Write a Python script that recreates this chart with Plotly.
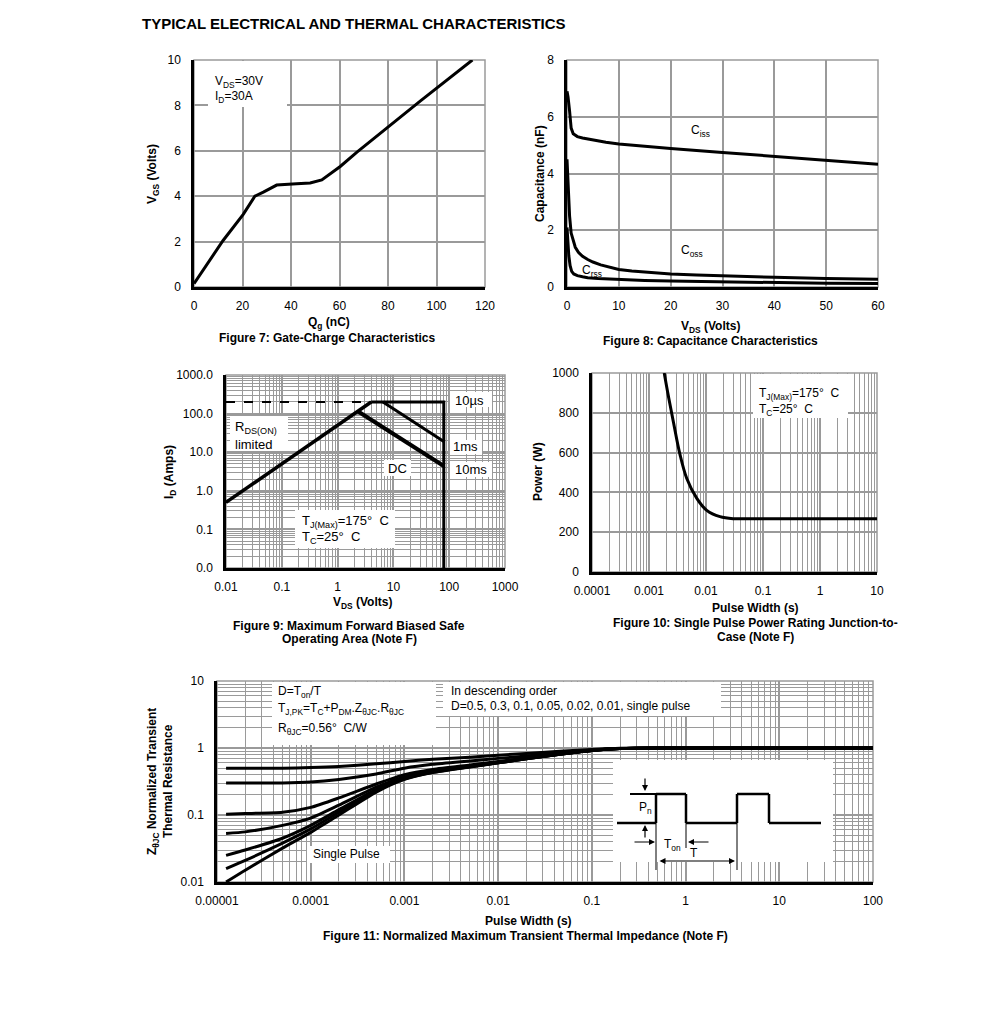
import plotly.graph_objects as go

W, H = 991, 1031
OFF = 8  # page body margin
FONT = "Liberation Sans, Arial, sans-serif"
GRID = "#9a9a9a"

# ---------------- data ----------------
# Fig 7 gate charge
qg = [0, 12, 20.3, 25.1, 28.6, 34.1, 42.3, 47.9, 52.7, 60.3, 67.2, 80.3, 93.4, 114.8]
vgs = [0.15, 2.05, 3.2, 4.0, 4.18, 4.49, 4.55, 4.58, 4.72, 5.31, 5.94, 7.07, 8.2, 10.0]

# Fig 8 capacitance
vds_c = [0, 0.2, 0.5, 0.8, 1.2, 2, 3, 5, 7.5, 10, 15, 20, 30, 40, 50, 60]
ciss = [6.9, 6.7, 6.2, 5.6, 5.4, 5.3, 5.25, 5.18, 5.1, 5.04, 4.95, 4.88, 4.74, 4.61, 4.47, 4.33]
vds_o = [0, 0.2, 0.5, 0.8, 1.2, 1.6, 2.2, 3, 4, 5, 6.5, 8, 10, 12.5, 15, 20, 25, 30, 40, 50, 60]
coss = [4.5, 3.6, 2.5, 1.9, 1.6, 1.4, 1.22, 1.08, 0.97, 0.88, 0.78, 0.70, 0.62, 0.56, 0.52, 0.46, 0.42, 0.39, 0.34, 0.30, 0.27]
vds_r = [0, 0.15, 0.35, 0.6, 0.9, 1.3, 2, 3, 4, 6, 10, 15, 20, 30, 40, 50, 60]
crss = [2.1, 1.6, 1.1, 0.75, 0.55, 0.46, 0.40, 0.36, 0.33, 0.30, 0.26, 0.23, 0.21, 0.18, 0.15, 0.13, 0.12]

# Fig 9 SOA
rds_v = [0.01, 4.0]
rds_i = [0.5, 200]
dash_v = [0.01, 4.0]
dash_i = [200, 200]
lim_v = [4.0, 80, 80]
lim_i = [200, 200, 0.01]
ms1_v = [6.5, 80]
ms1_i = [200, 19]
dc_v = [2.3, 80]
dc_i = [115, 4.4]

# Fig 10 single pulse power
pw_t = [0.00185, 0.0022, 0.0027, 0.0035, 0.0046, 0.0069, 0.0103, 0.0176, 0.03, 0.05, 10]
pw_p = [1000, 880, 749, 590, 470, 370, 310, 278, 268, 268, 268]

# Fig 11 transient thermal impedance
zt = [1.25e-5, 2e-5, 5e-5, 1e-4, 2e-4, 5e-4, 1e-3, 2e-3, 5e-3, 1e-2, 2e-2, 5e-2, 0.1, 0.2, 0.5, 1, 10, 100]
z_d50 = [0.50, 0.50, 0.50, 0.51, 0.53, 0.58, 0.63, 0.68, 0.73, 0.78, 0.83, 0.90, 0.95, 0.99, 1.0, 1.0, 1.0, 1.0]
z_d30 = [0.30, 0.30, 0.30, 0.31, 0.34, 0.41, 0.50, 0.57, 0.64, 0.70, 0.76, 0.86, 0.93, 0.98, 1.0, 1.0, 1.0, 1.0]
z_d10 = [0.103, 0.105, 0.11, 0.13, 0.18, 0.29, 0.40, 0.48, 0.56, 0.63, 0.71, 0.83, 0.92, 0.98, 1.0, 1.0, 1.0, 1.0]
z_d05 = [0.053, 0.056, 0.07, 0.09, 0.14, 0.26, 0.37, 0.46, 0.54, 0.61, 0.70, 0.82, 0.92, 0.98, 1.0, 1.0, 1.0, 1.0]
z_d02 = [0.025, 0.03, 0.045, 0.07, 0.12, 0.24, 0.35, 0.44, 0.53, 0.60, 0.69, 0.82, 0.92, 0.98, 1.0, 1.0, 1.0, 1.0]
z_d01 = [0.0158, 0.021, 0.038, 0.062, 0.11, 0.23, 0.345, 0.435, 0.525, 0.60, 0.69, 0.82, 0.92, 0.98, 1.0, 1.0, 1.0, 1.0]
z_sp = [0.010, 0.015, 0.032, 0.055, 0.10, 0.22, 0.34, 0.43, 0.52, 0.60, 0.69, 0.82, 0.92, 0.98, 1.0, 1.0, 1.0, 1.0]

# tick labels
soa_x_vals = [0.01, 0.1, 1, 10, 100, 1000]
soa_x_text = ["0.01", "0.1", "1", "10", "100", "1000"]
soa_y_vals = [0.01, 0.1, 1, 10, 100, 1000]
soa_y_text = ["0.0", "0.1", "1.0", "10.0", "100.0", "1000.0"]
pw_x_vals = [1e-4, 1e-3, 1e-2, 1e-1, 1, 10]
pw_x_text = ["0.0001", "0.001", "0.01", "0.1", "1", "10"]
z_x_vals = [1e-5, 1e-4, 1e-3, 1e-2, 1e-1, 1, 10, 100]
z_x_text = ["0.00001", "0.0001", "0.001", "0.01", "0.1", "1", "10", "100"]
z_y_vals = [0.01, 0.1, 1, 10]
z_y_text = ["0.01", "0.1", "1", "10"]


def px(x):
    return (x - OFF) / W


def py(y):
    return 1 - (y - OFF) / H


def minors(lo, hi):
    return [m * 10.0 ** k for k in range(lo, hi) for m in range(2, 10)]


fig = go.Figure()

# Fig 7
fig.add_trace(go.Scatter(x=qg, y=vgs, mode="lines", line=dict(color="black", width=3), xaxis="x", yaxis="y"))
# Fig 8
for xs, ys in [(vds_c, ciss), (vds_o, coss), (vds_r, crss)]:
    fig.add_trace(go.Scatter(x=xs, y=ys, mode="lines", line=dict(color="black", width=3), xaxis="x2", yaxis="y2"))
# Fig 9
fig.add_trace(go.Scatter(x=dash_v, y=dash_i, mode="lines", line=dict(color="black", width=2, dash="dash"), xaxis="x3", yaxis="y3"))
fig.add_trace(go.Scatter(x=rds_v, y=rds_i, mode="lines", line=dict(color="black", width=3.5), xaxis="x3", yaxis="y3"))
fig.add_trace(go.Scatter(x=lim_v, y=lim_i, mode="lines", line=dict(color="black", width=3), xaxis="x3", yaxis="y3"))
fig.add_trace(go.Scatter(x=ms1_v, y=ms1_i, mode="lines", line=dict(color="black", width=3), xaxis="x3", yaxis="y3"))
fig.add_trace(go.Scatter(x=dc_v, y=dc_i, mode="lines", line=dict(color="black", width=4), xaxis="x3", yaxis="y3"))
# Fig 10
fig.add_trace(go.Scatter(x=pw_t, y=pw_p, mode="lines", line=dict(color="black", width=3, shape="spline", smoothing=1.0), xaxis="x4", yaxis="y4"))
# Fig 11
for zs in [z_d50, z_d30, z_d10, z_d05, z_d02, z_d01, z_sp]:
    fig.add_trace(go.Scatter(x=zt, y=zs, mode="lines", line=dict(color="black", width=3, shape="spline", smoothing=0.6), xaxis="x5", yaxis="y5"))

tickfont = dict(family=FONT, size=12, color="black")

def lin_axis(dom, rng, dtick, anchor):
    return dict(domain=dom, range=rng, dtick=dtick, tick0=0, showgrid=True, gridcolor=GRID, gridwidth=1.5,
                zeroline=False, showline=True, linecolor="black", linewidth=2.5, ticks="", anchor=anchor,
                tickfont=tickfont, ticklabelstandoff=8, automargin=False, fixedrange=True)

def log_axis(dom, lo, hi, vals, text, anchor):
    return dict(domain=dom, type="log", range=[lo, hi], tickmode="array", tickvals=vals, ticktext=text,
                showgrid=True, gridcolor=GRID, gridwidth=1.5, zeroline=False, showline=True, linecolor="black",
                linewidth=2.5, ticks="", anchor=anchor, tickfont=tickfont, ticklabelstandoff=8, automargin=False,
                fixedrange=True,
                minor=dict(tickmode="array", tickvals=minors(lo, hi), showgrid=True, gridcolor=GRID, gridwidth=1, ticks=""))

def xdom(a, b):
    return [px(a), px(b)]


def ydom(bottom, top):
    return [py(bottom), py(top)]


lay = {}
lay["xaxis"] = lin_axis(xdom(194, 485), [0, 120], 20, "y")
lay["yaxis"] = lin_axis(ydom(287, 60), [0, 10], 2, "x")
lay["xaxis2"] = lin_axis(xdom(567, 878), [0, 60], 10, "y2")
lay["yaxis2"] = lin_axis(ydom(287, 60), [0, 8], 2, "x2")
lay["xaxis3"] = log_axis(xdom(226, 505), -2, 3, soa_x_vals, soa_x_text, "y3")
lay["yaxis3"] = log_axis(ydom(568, 375), -2, 3, soa_y_vals, soa_y_text, "x3")
lay["xaxis4"] = log_axis(xdom(592, 877), -4, 1, pw_x_vals, pw_x_text, "y4")
lay["yaxis4"] = lin_axis(ydom(572, 373), [0, 1000], 200, "x4")
lay["xaxis5"] = log_axis(xdom(217, 873), -5, 2, z_x_vals, z_x_text, "y5")
lay["yaxis5"] = log_axis(ydom(882, 681), -2, 1, z_y_vals, z_y_text, "x5")
for k in ["xaxis", "xaxis2", "xaxis3", "xaxis4", "xaxis5"]:
    lay[k]["ticklabelstandoff"] = 6
fig.update_layout(**lay)

shapes = []
# gray frame of plot areas
for xa, ya in [("x", "y"), ("x2", "y2"), ("x3", "y3"), ("x4", "y4"), ("x5", "y5")]:
    shapes.append(dict(type="rect", xref=xa + " domain", yref=ya + " domain", x0=0, x1=1, y0=0, y1=1,
                       line=dict(color=GRID, width=1.5), layer="below"))

def wbox(x0, y0, x1, y1):
    shapes.append(dict(type="rect", xref="paper", yref="paper", x0=px(x0), x1=px(x1), y0=py(y1), y1=py(y0),
                       fillcolor="white", line=dict(width=0), layer="above"))

def pline(x0, y0, x1, y1, w=1.0):
    shapes.append(dict(type="line", xref="paper", yref="paper", x0=px(x0), x1=px(x1), y0=py(y0), y1=py(y1),
                       line=dict(color="black", width=w), layer="above"))

# white label boxes
wbox(208, 61, 287, 107)      # fig7
wbox(680, 118, 722, 141)     # Ciss
wbox(672, 240, 714, 262)     # Coss
wbox(230, 416, 288, 451)     # RDS(on)
wbox(450, 392, 492, 407)     # 10us
wbox(450, 440, 482, 454)     # 1ms
wbox(384, 460, 411, 476)     # DC
wbox(450, 462, 492, 477)     # 10ms
wbox(295, 510, 395, 548)     # fig9 T box
wbox(753, 374, 848, 418)     # fig10 T box
wbox(272, 682, 436, 745)     # fig11 formula box
wbox(443, 682, 721, 716)     # fig11 D list
wbox(307, 846, 390, 863)     # Single pulse
# inset
wbox(613, 760, 833, 862)
wave = [(617, 823), (656, 823), (656, 794), (686, 794), (686, 823), (737, 823), (737, 794), (769, 794), (769, 823), (821, 823)]
for (a, b), (c, d) in zip(wave[:-1], wave[1:]):
    pline(a, b, c, d, 2.5)
pline(630, 794, 656, 794, 2)
pline(656, 794, 656, 870, 1)
pline(686, 823, 686, 848, 1)
pline(737, 794, 737, 870, 1)
fig.update_layout(shapes=shapes)

ann = []

def txt(x, y, s, size=12, bold=False, xanchor="center", align="center", angle=0):
    if bold:
        s = "<b>" + s + "</b>"
    ann.append(dict(x=px(x), y=py(y), xref="paper", yref="paper", text=s, showarrow=False,
                    xanchor=xanchor, yanchor="middle", align=align, textangle=angle,
                    font=dict(family=FONT, size=size, color="black")))

def arrow(hx, hy, tx, ty, side="end"):
    ann.append(dict(x=px(hx), y=py(hy), xref="paper", yref="paper", ax=tx - hx, ay=ty - hy, text="",
                    showarrow=True, arrowhead=2, arrowsize=1, arrowwidth=1.2, arrowcolor="black", arrowside=side))

txt(140, 24, "TYPICAL ELECTRICAL AND THERMAL CHARACTERISTICS", size=15, bold=True, xanchor="left")
# fig7
txt(213, 82, "V<sub>DS</sub>=30V", xanchor="left")
txt(213, 97, "I<sub>D</sub>=30A", xanchor="left")
txt(153, 174, "V<sub>GS</sub> (Volts)", bold=True, angle=-90)
txt(329, 323, "Q<sub>g</sub> (nC)", bold=True)
txt(327, 338, "Figure 7: Gate-Charge Characteristics", bold=True)
# fig8
txt(700, 131, "C<sub>iss</sub>")
txt(692, 251, "C<sub>oss</sub>")
txt(592, 271, "C<sub>rss</sub>")
txt(540, 174, "Capacitance (nF)", bold=True, angle=-90)
txt(710, 327, "V<sub>DS</sub> (Volts)", bold=True)
txt(710, 341, "Figure 8: Capacitance Characteristics", bold=True)
# fig9
txt(233, 427, "R<sub>DS(ON)</sub>", size=13, xanchor="left")
txt(233, 444, "limited", size=13, xanchor="left")
txt(469, 400, "10µs", size=13)
txt(465, 447, "1ms", size=13)
txt(397, 468, "DC", size=13)
txt(471, 469, "10ms", size=13)
txt(300, 521, "T<sub>J(Max)</sub>=175°  C", size=13, xanchor="left")
txt(300, 537, "T<sub>C</sub>=25°  C", size=13, xanchor="left")
txt(170, 472, "I<sub>D</sub> (Amps)", bold=True, angle=-90)
txt(362, 603, "V<sub>DS</sub> (Volts)", bold=True)
txt(349, 626, "Figure 9: Maximum Forward Biased Safe", bold=True)
txt(349, 639, "Operating Area (Note F)", bold=True)
# fig10
txt(757, 394, "T<sub>J(Max)</sub>=175°  C", xanchor="left")
txt(757, 410, "T<sub>C</sub>=25°  C", xanchor="left")
txt(538, 472, "Power (W)", bold=True, angle=-90)
txt(755, 608, "Pulse Width (s)", bold=True)
txt(755, 623, "Figure 10: Single Pulse Power Rating Junction-to-", bold=True)
txt(755, 637, "Case (Note F)", bold=True)
# fig11
txt(276, 692, "D=T<sub>on</sub>/T", xanchor="left")
txt(276, 709, "T<sub>J,PK</sub>=T<sub>C</sub>+P<sub>DM</sub>.Z<sub>θJC</sub>.R<sub>θJC</sub>", xanchor="left")
txt(276, 729, "R<sub>θJC</sub>=0.56°  C/W", xanchor="left")
txt(449, 691, "In descending order", xanchor="left")
txt(449, 706, "D=0.5, 0.3, 0.1, 0.05, 0.02, 0.01, single pulse", xanchor="left")
txt(311, 854, "Single Pulse", xanchor="left")
txt(160, 782, "Z<sub>θJC</sub> Normalized Transient<br>Thermal Resistance", bold=True, angle=-90)
txt(528, 921, "Pulse Width (s)", bold=True)
txt(525, 936, "Figure 11: Normalized Maximum Transient Thermal Impedance (Note F)", bold=True)
# inset texts/arrows
txt(645, 808, "P<sub>n</sub>")
txt(672, 845, "T<sub>on</sub>")
txt(694, 853, "T")
arrow(645, 791, 645, 777)
arrow(645, 825, 645, 839)
arrow(655, 842, 633, 842)
arrow(688, 842, 710, 842)
arrow(735, 861, 658, 861, side="end+start")

fig.update_layout(annotations=ann, width=W, height=H, margin=dict(l=0, r=0, t=0, b=0, autoexpand=False),
                  template="none", paper_bgcolor="white", plot_bgcolor="white", showlegend=False)
fig.write_html("out.html")
